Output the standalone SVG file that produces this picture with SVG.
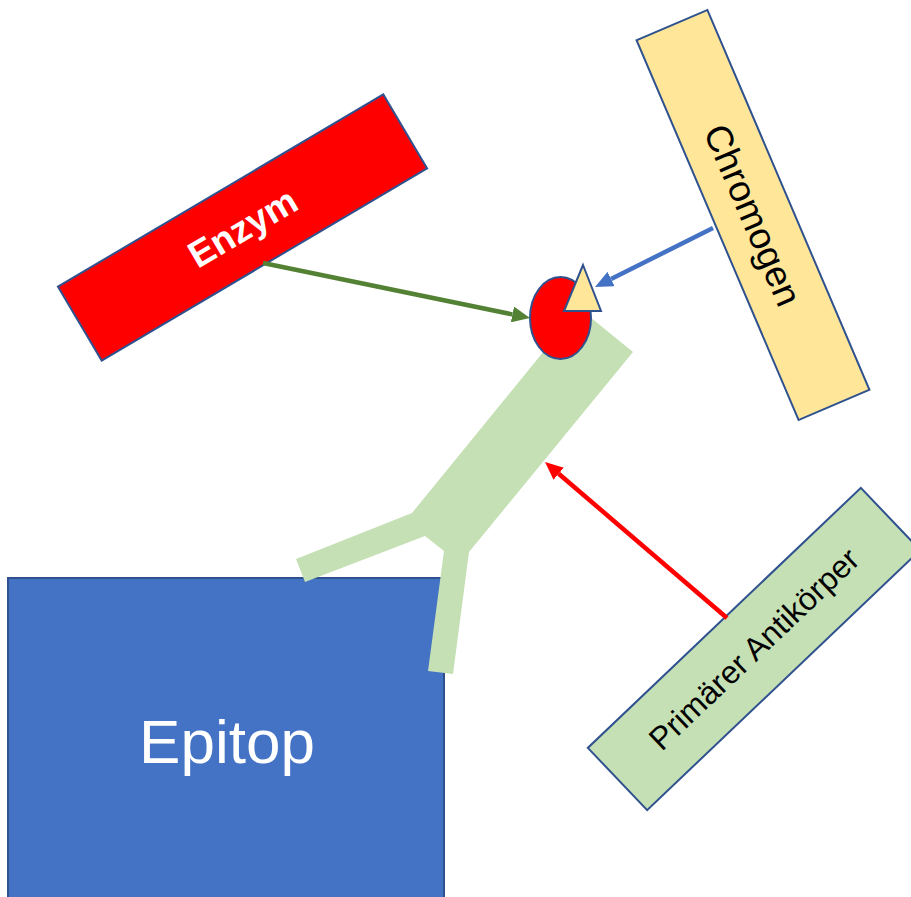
<svg xmlns="http://www.w3.org/2000/svg" width="911" height="897" viewBox="0 0 911 897">
  <style>
    .box { stroke: #2F528F; stroke-width: 2; }
    .lbl { font-family: "Liberation Sans", Arial, sans-serif; text-anchor: middle; }
    .conn { fill: none; stroke-width: 4.5; }
  </style>
  <defs>
    <marker id="headGreen" markerUnits="userSpaceOnUse" markerWidth="18" markerHeight="16" refX="0" refY="8" orient="auto">
      <path d="M0,0 L18,8 L0,16 z" fill="#548235"/>
    </marker>
    <marker id="headBlue" markerUnits="userSpaceOnUse" markerWidth="18" markerHeight="16" refX="0" refY="8" orient="auto">
      <path d="M0,0 L18,8 L0,16 z" fill="#4472C4"/>
    </marker>
    <marker id="headRed" markerUnits="userSpaceOnUse" markerWidth="18" markerHeight="16" refX="0" refY="8" orient="auto">
      <path d="M0,0 L18,8 L0,16 z" fill="#FF0000"/>
    </marker>
  </defs>
  <rect width="911" height="897" fill="#FFFFFF"/>

  <g id="epitop">
    <rect class="box" x="8" y="578" width="436" height="340" fill="#4472C4"/>
    <text class="lbl" x="227" y="763" font-size="62" fill="#FFFFFF">Epitop</text>
  </g>

  <g id="antikoerper-form">
    <polygon points="579,308 633,352 469,552 453,674 428,671 444,551 425,536 305,582 296,559 412,513" fill="#C5E0B4"/>
  </g>

  <g id="marker-enzym">
    <ellipse class="box" cx="560.5" cy="318" rx="30.5" ry="41" fill="#FF0000"/>
  </g>

  <g id="marker-chromogen">
    <polygon class="box" points="583,265 601,311 564,311" fill="#FFE699" stroke-linejoin="miter"/>
  </g>

  <g id="enzym">
    <g transform="translate(242.5,227.5) rotate(-30.6)">
      <rect class="box" x="-189" y="-43" width="378" height="86" fill="#FF0000"/>
      <text class="lbl" x="0" y="13" font-size="37" font-weight="bold" fill="#FFFFFF">Enzym</text>
    </g>
  </g>

  <g id="chromogen">
    <g transform="translate(753,215) rotate(66.9)">
      <rect class="box" x="-206.5" y="-38.5" width="413" height="77" fill="#FFE699"/>
      <text class="lbl" x="0" y="13" font-size="37" fill="#000000">Chromogen</text>
    </g>
  </g>

  <g id="primaerer-antikoerper">
    <g transform="translate(754,649) rotate(-43.6)">
      <rect class="box" x="-188.5" y="-43" width="377" height="86" fill="#C5E0B4"/>
      <text class="lbl" x="0" y="11" font-size="32" fill="#000000">Primärer Antikörper</text>
    </g>
  </g>

  <g id="connectors">
    <line class="conn" x1="263" y1="263" x2="512.4" y2="314.4" stroke="#548235" marker-end="url(#headGreen)"/>
    <line class="conn" x1="713" y1="228" x2="611.1" y2="279" stroke="#4472C4" marker-end="url(#headBlue)"/>
    <line class="conn" x1="727" y1="618" x2="558.7" y2="473.7" stroke="#FF0000" marker-end="url(#headRed)"/>
  </g>
</svg>
